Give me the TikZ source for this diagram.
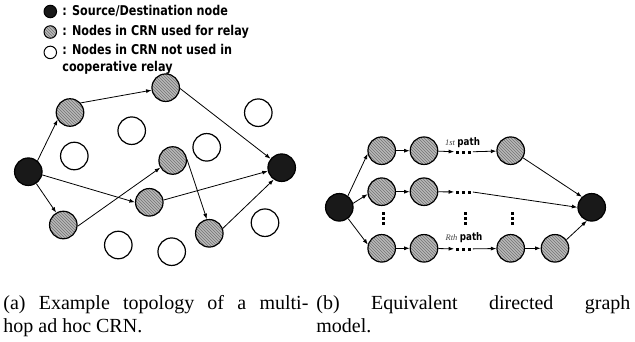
\documentclass[tikz,border=0pt]{standalone}
\usepackage{fontspec}
\setmainfont{Liberation Serif}
\newfontfamily\legendfont{DejaVu Sans}[FakeStretch=0.83]
\usepackage{tikz}
\usetikzlibrary{arrows.meta,patterns}
\tikzset{every picture/.style={line width=0.75pt}}
\newcommand{\hpathdots}{\rule{3pt}{3pt}\hspace{3pt}\rule{3pt}{3pt}\hspace{3pt}\rule{3pt}{3pt}}
\newcommand{\vpathdots}{\rule{2.7pt}{2.7pt}\hspace{2.2pt}\rule{2.7pt}{2.7pt}\hspace{2.2pt}\rule{2.7pt}{2.7pt}}

\tikzset{
  crn/.style={circle, draw, line width=1.2pt, minimum size=27.5pt, inner sep=0pt},
  endnode/.style={crn, fill=black!90},
  relay/.style={crn, pattern=north west lines, pattern color=black!55, preaction={fill=black!28}},
  idle/.style={crn, fill=white},
  legdot/.style={circle, draw, line width=1pt, minimum size=12.5pt, inner sep=0pt},
  legtext/.style={anchor=base west, inner sep=0pt, align=left,
    font=\legendfont\bfseries\fontsize{13.5}{16.7}\selectfont},
  link/.style={-{Latex[length=5.5pt,width=4pt]}, line width=0.8pt},
  pathdots/.style={inner sep=1.5pt},
  pathlabel/.style={anchor=base, inner sep=0pt},
  caption/.style={anchor=base west, inner sep=0pt, align=justify,
    font=\fontsize{20}{22.7}\selectfont}
}

\begin{document}
\begin{tikzpicture}[x=1pt, y=-1pt]
    \useasboundingbox (0,0) rectangle (635,341);

    % 图例
    \node[legdot, fill=black!90] (lsrc) at (50.3,11.5) {};
    \node[legdot, pattern=north west lines, pattern color=black!55, preaction={fill=black!28}] (lrelay) at (50.3,32) {};
    \node[legdot, fill=white] (lidle) at (50.3,52.4) {};
    \node[legtext] (tsrc) at (62,15.7) {: Source/Destination node};
    \node[legtext] (trelay) at (62,35.7) {: Nodes in CRN used for relay};
    \node[legtext] (tidle) at (62,71) {: Nodes in CRN not used in\\cooperative relay};

    % (a) 多跳 CRN 拓扑
    \node[endnode] (s) at (28.3,171.7) {};
    \node[endnode] (d) at (281.7,167.7) {};
    \node[relay] (r1) at (70,112.5) {};
    \node[relay] (r2) at (165.7,87.7) {};
    \node[relay] (r3) at (172.7,160.5) {};
    \node[relay] (r4) at (149.3,202.3) {};
    \node[relay] (r5) at (63.3,225) {};
    \node[relay] (r6) at (209.3,233.3) {};
    \node[idle] (u1) at (131.7,130.7) {};
    \node[idle] (u2) at (74.3,156) {};
    \node[idle] (u3) at (206.7,147.3) {};
    \node[idle] (u4) at (258.3,112.7) {};
    \node[idle] (u5) at (265,222.7) {};
    \node[idle] (u6) at (118.3,245) {};
    \node[idle] (u7) at (171.7,251.7) {};

    % 中继链路
    \draw[link] (s.50) -- (r1.210);
    \draw[link] (r1.42) -- (r2.190);
    \draw[link] (r2.-3) -- (d.141);
    \draw[link] (s.-13) -- (r4.180);
    \draw[link] (s.-56) -- (r5.120);
    \draw[link] (r5.-5) -- (r3.210);
    \draw[link] (r3.5) -- (r6.100);
    \draw[link] (r4.9) -- (d.194);
    \draw[link] (r6.20) -- (d.236);

    % (b) 等效有向图
    \node[endnode] (s2) at (339.3,207.3) {};
    \node[endnode] (d2) at (591.7,207.3) {};
    \node[relay] (a1) at (381.7,150.7) {};
    \node[relay] (a2) at (424,150.7) {};
    \node[pathdots] (da) at (463.5,152) {\hpathdots};
    \node[relay] (a3) at (510.7,150.7) {};
    \node[relay] (b1) at (381.7,191.7) {};
    \node[relay] (b2) at (424,191.7) {};
    \node[pathdots] (db) at (463.5,192) {\hpathdots};
    \node[relay] (c1) at (381.7,248.3) {};
    \node[relay] (c2) at (424,248.3) {};
    \node[pathdots] (dc) at (463.5,249) {\hpathdots};
    \node[relay] (c3) at (510.7,248.3) {};
    \node[relay] (c4) at (555,248.3) {};
    \node[pathdots, rotate=90] (va) at (383.3,218.5) {\vpathdots};
    \node[pathdots, rotate=90] (vb) at (465.7,218.5) {\vpathdots};
    \node[pathdots, rotate=90] (vc) at (512.7,218.5) {\vpathdots};

    % 路径标注
    \node[pathlabel] (lab1) at (462.5,145) {{\fontsize{8.5}{10}\selectfont\itshape\color{black!75}1st} {\legendfont\bfseries\fontsize{10.5}{12}\selectfont path}};
    \node[pathlabel] (labr) at (464,240) {{\fontsize{8.5}{10}\selectfont\itshape\color{black!75}Rth} {\legendfont\bfseries\fontsize{10.5}{12}\selectfont path}};

    % 路径连线
    \draw[link] (s2.53) -- (a1.192);
    \draw[link] (s2.16) -- (b1.190);
    \draw[link] (s2.-52) -- (c1.165);
    \draw[link] (a1) -- (a2);
    \draw[link] (a2) -- (da);
    \draw[link] (da) -- (a3);
    \draw[link] (a3.-30) -- (d2.133);
    \draw[link] (b1) -- (b2);
    \draw[link] (b2) -- (db);
    \draw[link] (db.east) -- (d2.180);
    \draw[link] (c1) -- (c2);
    \draw[link] (c2) -- (dc);
    \draw[link] (dc) -- (c3);
    \draw[link] (c3) -- (c4);
    \draw[link] (c4.37) -- (d2.250);

    % 子图标题
    \node[caption, text width=305pt] (capa) at (3,309.5) {(a) Example topology of a multi-\linebreak hop ad hoc CRN.};
    \node[caption, text width=314pt] (capb) at (316,309.5) {(b) Equivalent directed graph\linebreak model.};
\end{tikzpicture}
\end{document}
